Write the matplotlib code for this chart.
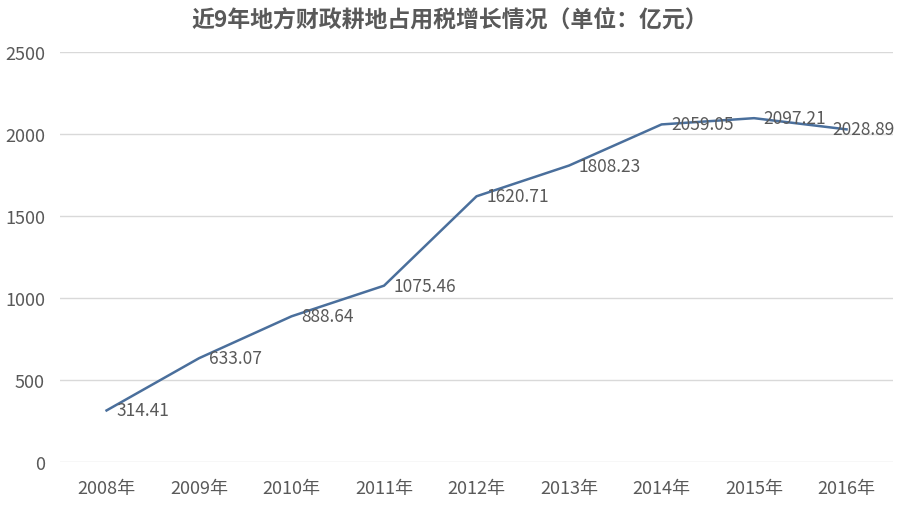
import matplotlib
matplotlib.use("Agg")
import matplotlib.pyplot as plt

plt.rcParams['font.family'] = ['Noto Sans CJK SC', 'DejaVu Sans']

years = ["2008年", "2009年", "2010年", "2011年", "2012年", "2013年", "2014年", "2015年", "2016年"]
values = [314.41, 633.07, 888.64, 1075.46, 1620.71, 1808.23, 2059.05, 2097.21, 2028.89]
yticks = [0, 500, 1000, 1500, 2000, 2500]
title = "近9年地方财政耕地占用税增长情况（单位：亿元）"

fig = plt.figure(figsize=(9, 5.06), dpi=100)
ax = fig.add_axes([0.067, 0.085, 0.925, 0.81])
x = list(range(len(years)))
ax.plot(x, values, color='#4a6f9c', linewidth=1.8, zorder=3)
for i, (xi, v) in enumerate(zip(x, values)):
    dx = 7 if i < len(values) - 1 else -10
    ax.annotate(f"{v:.2f}", (xi, v), xytext=(dx, 0), textcoords='offset points',
                ha='left', va='center', fontsize=12.5, color='#595959', zorder=4)

ax.set_xlim(-0.5, len(years) - 0.5)
ax.set_ylim(0, 2500)
ax.set_yticks(yticks)
ax.set_xticks(x)
ax.set_xticklabels(years)
ax.grid(axis='y', color='#d9d9d9', linewidth=1)
ax.set_axisbelow(True)
for s in ax.spines.values():
    s.set_visible(False)
ax.tick_params(length=0, labelsize=13, labelcolor='#595959')
ax.tick_params(axis='y', pad=11)
ax.tick_params(axis='x', pad=12)
fig.text(0.5, 0.96, title, ha='center', va='center', fontsize=16.5, fontweight='bold', color='#595959')
fig.savefig("out.png", dpi=100)
